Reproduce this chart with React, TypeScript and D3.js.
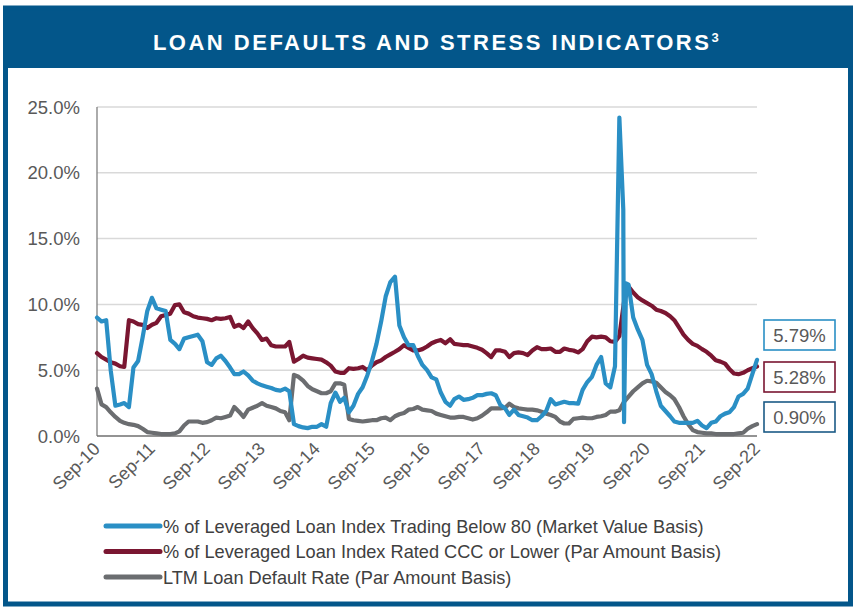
import React from "react";
import * as d3 from "d3";

// ---------- DATA ----------
const startMonth = new Date(2010, 8, 1);
const endMonth = new Date(2022, 8, 1);

const xTickLabels = ["Sep-10", "Sep-11", "Sep-12", "Sep-13", "Sep-14", "Sep-15", "Sep-16", "Sep-17", "Sep-18", "Sep-19", "Sep-20", "Sep-21", "Sep-22"];
const yTicks = [0, 5, 10, 15, 20, 25];

const seriesNames = [
  "% of Leveraged Loan Index Trading Below 80 (Market Value Basis)",
  "% of Leveraged Loan Index Rated CCC or Lower (Par Amount Basis)",
  "LTM Loan Default Rate (Par Amount Basis)",
];
const endLabels = ["5.79%", "5.28%", "0.90%"];

// monthly, Sep-10 .. Sep-22
const below80 = [
  9.0, 8.7, 8.8, 5.0, 2.3, 2.4, 2.5, 2.2, 5.2, 5.7,
  7.5, 9.5, 10.5, 9.7, 9.6, 9.5, 7.3, 7.0, 6.6, 7.4,
  7.5, 7.6, 7.7, 7.2, 5.6, 5.4, 5.9, 6.1, 5.7, 5.2,
  4.7, 4.7, 4.9, 4.6, 4.2, 4.0, 3.85, 3.75, 3.65, 3.5,
  3.45, 3.6, 3.4, 0.9, 0.75, 0.65, 0.6, 0.7, 0.7, 0.9,
  0.7, 2.5, 3.3, 2.6, 2.9, 1.8, 2.3, 3.2, 3.7, 4.6,
  5.7, 7.0, 8.7, 10.6, 11.7, 12.1, 8.4, 7.5, 6.9, 6.9,
  6.1, 5.4, 5.0, 4.45, 4.3, 3.3, 2.6, 2.3, 2.8, 3.0,
  2.75, 2.8, 2.9, 3.1, 3.1, 3.2, 3.25, 3.1, 2.35, 2.1,
  1.6, 2.0, 1.6, 1.5, 1.4, 1.2, 1.2, 1.5, 1.9, 2.8,
  2.4, 2.5, 2.6, 2.5, 2.5, 2.45, 3.5, 4.1, 4.5, 5.4,
  6.0, 4.0, 3.7, 5.3, 24.2, 1.05, 11.5, 9.0, 8.1, 7.3,
  5.4, 4.7, 3.4, 2.3, 1.9, 1.5, 1.1, 1.0, 1.0, 1.0,
  1.0, 1.15, 0.8, 0.6, 1.0, 1.1, 1.5, 1.7, 1.8, 2.2,
  3.0, 3.2, 3.6, 4.7, 5.79,
];
// intra-month readings around the Mar-2020 spike
const below80Detail: [string, number][] = [
  ["2020-03-27", 17.2],
  ["2020-04-14", 11.6],
];

const cccOrLower = [
  6.3, 6.0, 5.8, 5.6, 5.5, 5.3, 5.25, 8.8, 8.7, 8.5,
  8.45, 8.2, 8.45, 8.6, 9.1, 9.2, 9.3, 9.95, 10.0, 9.4,
  9.3, 9.1, 9.0, 8.95, 8.9, 8.8, 8.95, 8.9, 8.95, 9.05,
  8.3, 8.45, 8.2, 8.7, 8.2, 7.8, 7.3, 7.4, 6.9, 6.8,
  6.8, 6.8, 7.15, 5.65, 5.85, 6.1, 5.95, 5.9, 5.85, 5.8,
  5.6, 5.35, 4.9, 4.8, 4.8, 5.15, 5.1, 5.15, 5.25, 5.0,
  5.35, 5.6, 5.75, 6.0, 6.2, 6.4, 6.6, 6.9, 6.7, 6.5,
  6.5, 6.6, 6.8, 7.05, 7.2, 7.3, 7.05, 7.35, 7.0, 6.95,
  6.9, 6.9, 6.8, 6.7, 6.55, 6.3, 6.0, 6.5, 6.5, 6.4,
  6.0, 6.3, 6.35, 6.3, 6.15, 6.5, 6.75, 6.6, 6.6, 6.65,
  6.4, 6.4, 6.65, 6.55, 6.5, 6.35, 6.6, 7.2, 7.55, 7.5,
  7.55, 7.5, 7.2, 7.15, 7.6, 10.2, 11.35, 10.9, 10.55, 10.3,
  10.1, 9.9, 9.6, 9.5, 9.35, 9.1, 8.8, 8.25, 7.7, 7.3,
  7.0, 6.85, 6.6, 6.4, 6.1, 5.75, 5.65, 5.5, 5.1, 4.75,
  4.7, 4.8, 5.0, 5.15, 5.28,
];

const defaultRate = [
  3.6, 2.4, 2.2, 1.8, 1.45, 1.15, 1.0, 0.9, 0.85, 0.75,
  0.55, 0.3, 0.25, 0.2, 0.15, 0.15, 0.15, 0.2, 0.35, 0.8,
  1.1, 1.1, 1.1, 1.0, 1.05, 1.2, 1.4, 1.35, 1.45, 1.55,
  2.2, 1.85, 1.45, 2.0, 2.15, 2.3, 2.5, 2.3, 2.2, 2.1,
  1.9, 1.8, 1.2, 4.65, 4.5, 4.2, 3.8, 3.55, 3.4, 3.25,
  3.25, 3.4, 4.0, 4.0, 3.9, 1.3, 1.2, 1.15, 1.1, 1.15,
  1.2, 1.2, 1.35, 1.4, 1.2, 1.5, 1.65, 1.75, 2.0, 2.05,
  2.2, 2.0, 1.95, 1.9, 1.7, 1.6, 1.5, 1.4, 1.4, 1.45,
  1.45, 1.35, 1.25, 1.35, 1.55, 1.8, 2.1, 2.1, 2.1, 2.15,
  2.45, 2.2, 2.1, 2.05, 2.0, 2.0, 1.95, 1.85, 1.7, 1.6,
  1.45, 1.1, 0.95, 0.95, 1.3, 1.35, 1.4, 1.35, 1.35, 1.45,
  1.5, 1.6, 1.85, 1.85, 1.95, 2.6, 3.0, 3.4, 3.7, 4.0,
  4.2, 4.15, 4.05, 3.7, 3.35, 3.1, 2.8, 2.2, 1.5, 0.9,
  0.45, 0.3, 0.25, 0.2, 0.2, 0.15, 0.15, 0.15, 0.15, 0.15,
  0.2, 0.25, 0.55, 0.75, 0.9,
];

// ---------- STYLE / LAYOUT ----------
const W = 856;
const H = 607;
const FRAME = "#03568a";
const BLUE = "#2a8fc5";
const RED = "#7a1631";
const GRAY = "#6b6d70";
const LABEL_BOX_DARK = "#1b5a86";
const TEXT = "#595959";
const FONT = "'Liberation Sans', Arial, sans-serif";

const M = { left: 97, right: 757, top: 107, bottom: 436 };

export default function App() {
  const months = d3.timeMonth.range(startMonth, d3.timeMonth.offset(endMonth, 1));
  const x = d3.scaleTime().domain([startMonth, endMonth]).range([M.left, M.right]);
  const y = d3.scaleLinear().domain([0, 25]).range([M.bottom, M.top]);
  const parse = d3.timeParse("%Y-%m-%d");

  const toPts = (vals: number[]) => vals.map((v, i) => ({ d: months[i], v }));
  const bluePts = toPts(below80)
    .concat(below80Detail.map(([s, v]) => ({ d: parse(s) as Date, v })))
    .sort((a, b) => +a.d - +b.d);
  const redPts = toPts(cccOrLower);
  const grayPts = toPts(defaultRate);

  const line = d3
    .line<{ d: Date; v: number }>()
    .x((p) => x(p.d))
    .y((p) => y(p.v))
    .curve(d3.curveLinear);

  const tickDates = xTickLabels.map((_, i) => d3.timeYear.offset(startMonth, i));

  const legendColors = [BLUE, RED, GRAY];
  const boxColors = [BLUE, RED, LABEL_BOX_DARK];
  const boxY = [320, 362, 402];

  return (
    <div style={{ position: "absolute", left: 0, top: 0, width: W, height: H }}>
      <svg width={W} height={H} style={{ display: "block", fontFamily: FONT }}>
        <rect x={0} y={0} width={W} height={H} fill="#ffffff" />
        {/* frame */}
        <rect x={3} y={7} width={W - 6} height={61} fill={FRAME} />
        <rect x={5.5} y={8} width={W - 11} height={H - 11} fill="none" stroke={FRAME} strokeWidth={5} />
        <text
          x={437}
          y={50}
          textAnchor="middle"
          fill="#ffffff"
          fontWeight="bold"
          fontSize={22}
          letterSpacing={2.5}
        >
          LOAN DEFAULTS AND STRESS INDICATORS
          <tspan fontSize={13} dy={-8}>3</tspan>
        </text>

        {/* grid */}
        {yTicks.map((t) => (
          <g key={t}>
            {t > 0 && (
              <line x1={M.left} x2={M.right} y1={y(t)} y2={y(t)} stroke="#d9d9d9" strokeWidth={1.5} />
            )}
            <text x={80} y={y(t)} dy="0.36em" textAnchor="end" fill={TEXT} fontSize={18.5}>
              {t.toFixed(1)}%
            </text>
          </g>
        ))}
        {/* axes */}
        <line x1={M.left} x2={M.left} y1={M.top} y2={M.bottom} stroke="#7f7f7f" strokeWidth={1.3} />
        <line x1={M.left} x2={M.right} y1={M.bottom} y2={M.bottom} stroke="#6f6f6f" strokeWidth={1.6} />

        {/* series */}
        <g fill="none" strokeWidth={4.2} strokeLinejoin="round" strokeLinecap="round">
          <path d={line(grayPts) || ""} stroke={GRAY} />
          <path d={line(redPts) || ""} stroke={RED} />
          <path d={line(bluePts) || ""} stroke={BLUE} />
        </g>

        {/* x tick labels */}
        {tickDates.map((d, i) => (
          <text
            key={xTickLabels[i]}
            transform={`translate(${x(d) + 4},${450}) rotate(-45)`}
            textAnchor="end"
            fill={TEXT}
            fontSize={18}
          >
            {xTickLabels[i]}
          </text>
        ))}

        {/* end labels */}
        {endLabels.map((s, i) => (
          <g key={s}>
            <rect x={764} y={boxY[i]} width={71} height={30} fill="#fff" stroke={boxColors[i]} strokeWidth={1.6} />
            <text x={799.5} y={boxY[i] + 15} dy="0.36em" textAnchor="middle" fill={TEXT} fontSize={18.5}>
              {s}
            </text>
          </g>
        ))}

        {/* legend */}
        {seriesNames.map((s, i) => (
          <g key={s} transform={`translate(0,${526 + i * 25.5})`}>
            <line x1={106} x2={160} y1={0} y2={0} stroke={legendColors[i]} strokeWidth={5} strokeLinecap="round" />
            <text x={163} y={0} dy="0.36em" fill="#404040" fontSize={18.2}>
              {s}
            </text>
          </g>
        ))}
      </svg>
    </div>
  );
}
